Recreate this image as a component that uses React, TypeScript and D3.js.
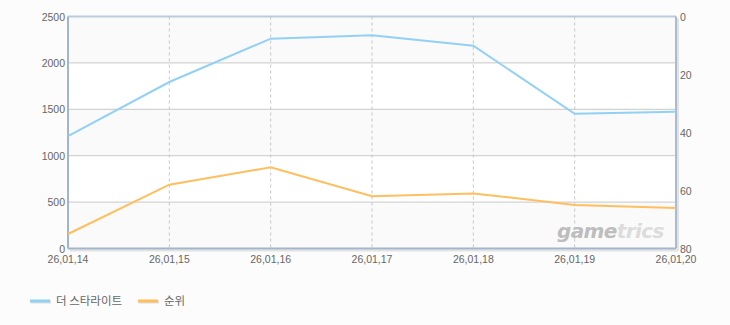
import React from "react";
import * as d3 from "d3";

const categories = ["26,01,14", "26,01,15", "26,01,16", "26,01,17", "26,01,18", "26,01,19", "26,01,20"];
const starlightValues = [1212, 1794, 2261, 2297, 2185, 1452, 1474];
const rankValues = [75, 58, 52, 62, 61, 65, 66];
const leftTicks = [0, 500, 1000, 1500, 2000, 2500];
const rightTicks = [0, 20, 40, 60, 80];
const seriesNames = ["더 스타라이트", "순위"];
const seriesColors = ["#92d1f4", "#ffbf5e"];

const W = 730;
const H = 325;
const M = { left: 68, right: 676, top: 16.5, bottom: 248.5 };

export default function App() {
  const x = d3.scalePoint<string>().domain(categories).range([M.left, M.right]);
  const yL = d3.scaleLinear().domain([0, 2500]).range([M.bottom, M.top]);
  const yR = d3.scaleLinear().domain([0, 80]).range([M.top, M.bottom]);

  const lineL = d3
    .line<number>()
    .x((_, i) => x(categories[i]) as number)
    .y((d) => yL(d));
  const lineR = d3
    .line<number>()
    .x((_, i) => x(categories[i]) as number)
    .y((d) => yR(d));

  const font = "'Liberation Sans', Arial, sans-serif";
  const textColor = "#666";

  const bands = d3.range(leftTicks.length - 1).map((i) => ({
    y0: yL(leftTicks[i + 1]),
    y1: yL(leftTicks[i]),
    fill: i % 2 === 0 ? "#fafafa" : "#ffffff",
  }));

  return (
    <svg
      width={W}
      height={H}
      style={{ position: "absolute", left: 0, top: 0, display: "block" }}
    >
      <rect x={0} y={0} width={W} height={H} fill="#fcfcfc" />
      {bands.map((b, i) => (
        <rect key={i} x={M.left} y={b.y0} width={M.right - M.left} height={b.y1 - b.y0} fill={b.fill} />
      ))}
      {leftTicks.slice(1, -1).map((t) => (
        <line key={t} x1={M.left} x2={M.right} y1={yL(t)} y2={yL(t)} stroke="#c9c9c9" strokeWidth={1} />
      ))}
      {categories.slice(1, -1).map((c) => (
        <line
          key={c}
          x1={x(c)}
          x2={x(c)}
          y1={M.top}
          y2={M.bottom}
          stroke="#c6c6c6"
          strokeWidth={1}
          strokeDasharray="3,3"
        />
      ))}
      {/* watermark */}
      <text
        x={557}
        y={238}
        fontFamily="'DejaVu Sans', sans-serif"
        fontWeight="bold"
        fontStyle="italic"
        fontSize={20}
        letterSpacing={-0.6}
      >
        <tspan fill="#bdbdbd">game</tspan>
        <tspan fill="#dcdcdc">trics</tspan>
      </text>
      {/* axes shadows */}
      <line x1={M.right + 2} x2={M.right + 2} y1={M.top + 2} y2={M.bottom + 2} stroke="#e2e2e2" strokeWidth={2} />
      <line x1={M.left + 2} x2={M.right + 2} y1={M.bottom + 2} y2={M.bottom + 2} stroke="#e2e2e2" strokeWidth={2} />
      {/* frame */}
      <line x1={M.left} x2={M.right} y1={M.top} y2={M.top} stroke="#b9cbdc" strokeWidth={2} />
      <line x1={M.right} x2={M.right} y1={M.top} y2={M.bottom} stroke="#a9bccf" strokeWidth={2} />
      <line x1={M.left} x2={M.right} y1={M.bottom} y2={M.bottom} stroke="#a3b5c9" strokeWidth={2} />
      <line x1={M.left} x2={M.left} y1={M.top} y2={M.bottom} stroke="#a3b5c9" strokeWidth={2} />
      {/* series */}
      <path d={lineL(starlightValues) || ""} fill="none" stroke={seriesColors[0]} strokeWidth={2} />
      <path d={lineR(rankValues) || ""} fill="none" stroke={seriesColors[1]} strokeWidth={2} />
      {/* left ticks */}
      {leftTicks.map((t) => (
        <text key={t} x={M.left - 3} y={yL(t) + 4} textAnchor="end" fontFamily={font} fontSize={10.5} fill={textColor}>
          {t}
        </text>
      ))}
      {rightTicks.map((t) => (
        <text key={t} x={M.right + 4} y={yR(t) + 4} textAnchor="start" fontFamily={font} fontSize={10.5} fill={textColor}>
          {t}
        </text>
      ))}
      {categories.map((c) => (
        <text key={c} x={x(c)} y={263} textAnchor="middle" fontFamily={font} fontSize={10.5} fill={textColor}>
          {c}
        </text>
      ))}
      {/* legend */}
      {seriesNames.map((name, i) => {
        const lx = i === 0 ? 30 : 138;
        return (
          <g key={name}>
            <line x1={lx + 1} x2={lx + 21} y1={302} y2={302} stroke="#dedede" strokeWidth={3} />
            <line x1={lx} x2={lx + 20} y1={301} y2={301} stroke={seriesColors[i]} strokeWidth={3} />
            <text x={lx + 26} y={305} fontFamily="'Noto Sans CJK KR', sans-serif" fontSize={11.5} fill={textColor}>
              {name}
            </text>
          </g>
        );
      })}
    </svg>
  );
}
